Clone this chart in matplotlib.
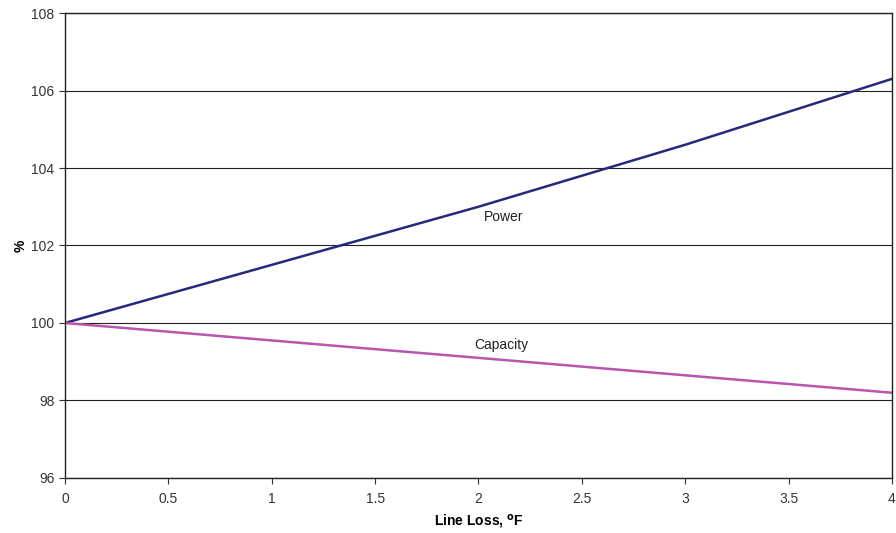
import numpy as np
import matplotlib.pyplot as plt

plt.rcParams["font.family"] = ["Liberation Sans", "DejaVu Sans"]

line_loss = [0, 1, 2, 3, 4]
power = [100, 101.5, 103.0, 104.6, 106.3]
capacity = [100, 99.55, 99.1, 98.65, 98.2]

fig = plt.figure(figsize=(8.96, 5.33), dpi=100)
ax = fig.add_axes([0.0725, 0.1032, 0.9230, 0.8724])

ax.plot(line_loss, power, color="#28287a", lw=1.8)
ax.plot(line_loss, capacity, color="#b856ac", lw=1.8)

ax.text(2.12, 102.74, "Power", fontsize=10, ha="center", va="center", color="#222222")
ax.text(2.11, 99.43, "Capacity", fontsize=10, ha="center", va="center", color="#222222")

ax.set_xlim(0, 4)
ax.set_ylim(96, 108)
ax.set_xticks(np.arange(0, 4.01, 0.5))
ax.set_xticklabels(["0", "0.5", "1", "1.5", "2", "2.5", "3", "3.5", "4"])
ax.set_yticks(np.arange(96, 108.1, 2))
ax.yaxis.grid(True, color="#222222", lw=0.8)
ax.set_axisbelow(True)

for s in ax.spines.values():
    s.set_color("#222222")
    s.set_linewidth(1.0)

ax.tick_params(axis="both", labelsize=10, colors="#333333", length=4, width=0.8, direction="out")
ax.tick_params(axis="x", pad=6)

ax.set_xlabel(r"Line Loss, $^{\mathbf{o}}$F", fontsize=10, fontweight="bold", labelpad=5)
ax.set_ylabel("%", fontsize=10, fontweight="bold", labelpad=3)

plt.savefig("out.png", dpi=100)
